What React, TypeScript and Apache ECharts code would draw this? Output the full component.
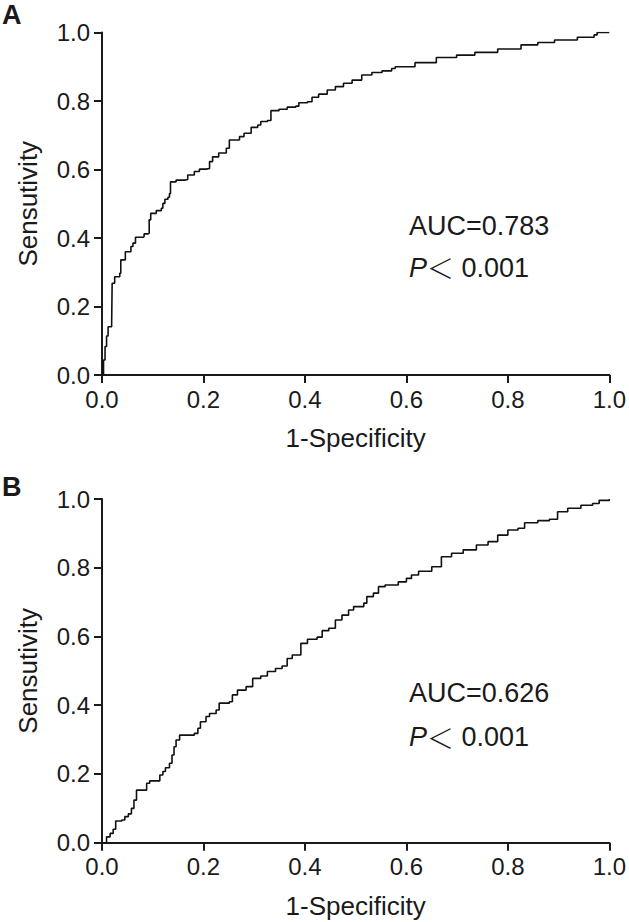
import React, { useEffect, useRef } from "react";
import * as echarts from "echarts";

// Panel A ROC curve (1-Specificity, Sensitivity)
const fprA = [0, 0.003, 0.006, 0.009, 0.012, 0.019, 0.02, 0.025, 0.035, 0.037, 0.046, 0.057, 0.061, 0.066, 0.081, 0.083, 0.091, 0.093, 0.096, 0.107, 0.117, 0.12, 0.124, 0.13, 0.133, 0.135, 0.146, 0.163, 0.169, 0.182, 0.192, 0.205, 0.212, 0.218, 0.23, 0.245, 0.251, 0.264, 0.271, 0.28, 0.294, 0.307, 0.313, 0.326, 0.333, 0.349, 0.365, 0.382, 0.388, 0.405, 0.414, 0.427, 0.444, 0.46, 0.476, 0.493, 0.512, 0.532, 0.552, 0.571, 0.578, 0.604, 0.617, 0.653, 0.659, 0.699, 0.735, 0.78, 0.826, 0.859, 0.892, 0.937, 0.97, 0.976, 1.0];
const tprA = [0, 0.044, 0.083, 0.114, 0.141, 0.146, 0.268, 0.287, 0.297, 0.336, 0.36, 0.375, 0.385, 0.402, 0.404, 0.412, 0.414, 0.453, 0.472, 0.48, 0.487, 0.501, 0.513, 0.519, 0.53, 0.564, 0.569, 0.571, 0.584, 0.594, 0.601, 0.603, 0.623, 0.637, 0.648, 0.662, 0.686, 0.686, 0.696, 0.706, 0.723, 0.73, 0.74, 0.743, 0.772, 0.776, 0.782, 0.785, 0.795, 0.798, 0.811, 0.82, 0.832, 0.842, 0.852, 0.861, 0.876, 0.883, 0.888, 0.895, 0.9, 0.9, 0.912, 0.912, 0.927, 0.934, 0.942, 0.952, 0.964, 0.971, 0.978, 0.986, 0.993, 1.0, 1.0];

// Panel B ROC curve
const fprB = [0, 0.009, 0.016, 0.022, 0.027, 0.039, 0.045, 0.052, 0.058, 0.063, 0.068, 0.081, 0.088, 0.094, 0.107, 0.114, 0.12, 0.125, 0.133, 0.138, 0.142, 0.146, 0.153, 0.169, 0.182, 0.189, 0.194, 0.205, 0.212, 0.225, 0.231, 0.251, 0.257, 0.267, 0.284, 0.297, 0.313, 0.326, 0.342, 0.355, 0.365, 0.375, 0.388, 0.392, 0.405, 0.424, 0.434, 0.447, 0.46, 0.473, 0.486, 0.496, 0.516, 0.522, 0.535, 0.545, 0.558, 0.575, 0.584, 0.6, 0.61, 0.624, 0.65, 0.669, 0.689, 0.712, 0.738, 0.761, 0.78, 0.8, 0.82, 0.833, 0.859, 0.882, 0.898, 0.918, 0.944, 0.967, 0.98, 1.0];
const tprB = [0, 0.017, 0.027, 0.039, 0.063, 0.066, 0.076, 0.084, 0.1, 0.124, 0.153, 0.153, 0.173, 0.18, 0.18, 0.197, 0.207, 0.218, 0.231, 0.255, 0.279, 0.299, 0.313, 0.313, 0.318, 0.333, 0.352, 0.367, 0.376, 0.386, 0.406, 0.41, 0.43, 0.444, 0.454, 0.478, 0.485, 0.498, 0.507, 0.514, 0.536, 0.546, 0.546, 0.58, 0.592, 0.598, 0.617, 0.624, 0.648, 0.662, 0.677, 0.687, 0.697, 0.716, 0.726, 0.745, 0.75, 0.75, 0.759, 0.769, 0.779, 0.79, 0.803, 0.832, 0.842, 0.852, 0.866, 0.876, 0.895, 0.91, 0.915, 0.931, 0.937, 0.941, 0.963, 0.973, 0.982, 0.987, 0.996, 1.0];

const panelLabels = ["A", "B"];
const aucTexts = ["AUC=0.783", "AUC=0.626"];
const pValues = ["0.001", "0.001"];

const FONT = "'Liberation Sans', Arial, Helvetica, sans-serif";
const INK = "#1a1a1a";

export default function App() {
  const ref = useRef<HTMLDivElement>(null);
  useEffect(() => {
    if (!ref.current) return;
    const chart = echarts.init(ref.current, null, { renderer: "svg" });
    const tops = [32.5, 499];
    const heights = [342.5, 343.7];
    const xAxisBase = (i: number) => ({
      type: "value",
      gridIndex: i,
      min: 0,
      max: 1,
      interval: 0.2,
      name: "1-Specificity",
      nameLocation: "middle",
      nameGap: 50,
      nameTextStyle: { fontSize: 26, color: INK, fontFamily: FONT },
      axisLine: { show: true, onZero: false, lineStyle: { color: INK, width: 2 } },
      axisTick: { show: true, length: 8, lineStyle: { color: INK, width: 2 } },
      axisLabel: { fontSize: 24, color: INK, fontFamily: FONT, margin: 12, formatter: (v: number) => v.toFixed(1) },
      splitLine: { show: false },
    });
    const yAxisBase = (i: number) => ({
      type: "value",
      gridIndex: i,
      min: 0,
      max: 1,
      interval: 0.2,
      name: "Sensutivity",
      nameLocation: "middle",
      nameGap: 61,
      nameTextStyle: { fontSize: 26, color: INK, fontFamily: FONT },
      axisLine: { show: true, onZero: false, lineStyle: { color: INK, width: 2 } },
      axisTick: { show: true, length: 8, lineStyle: { color: INK, width: 2 } },
      axisLabel: { fontSize: 24, color: INK, fontFamily: FONT, margin: 12, formatter: (v: number) => v.toFixed(1) },
      splitLine: { show: false },
    });
    const dataA = fprA.map((x, i) => [x, tprA[i]]);
    const dataB = fprB.map((x, i) => [x, tprB[i]]);
    const textEls: any[] = [];
    [0, 1].forEach((i) => {
      const labelY = i === 0 ? 15 : 487;
      const aucY = i === 0 ? 226 : 693;
      const pY = i === 0 ? 267.5 : 737;
      textEls.push({
        type: "text",
        x: 2,
        y: labelY,
        style: { text: panelLabels[i], font: `bold 27px ${FONT}`, fill: INK, verticalAlign: "middle", align: "left" },
      });
      textEls.push({
        type: "text",
        x: 409,
        y: aucY,
        style: { text: aucTexts[i], font: `27px ${FONT}`, fill: INK, verticalAlign: "middle", align: "left" },
      });
      textEls.push({
        type: "text",
        x: 409,
        y: pY,
        style: {
          text: `{i|P}{c|＜}{n| ${pValues[i]}}`,
          fill: INK,
          verticalAlign: "middle",
          align: "left",
          rich: {
            i: { fontStyle: "italic", fontSize: 27, fontFamily: FONT, fill: INK },
            c: { fontSize: 27, fontFamily: "'Noto Sans CJK SC', sans-serif", fontWeight: 300, fill: INK },
            n: { fontSize: 27, fontFamily: FONT, fill: INK },
          },
        },
      });
    });
    chart.setOption({
      animation: false,
      backgroundColor: "#ffffff",
      grid: [0, 1].map((i) => ({ left: 102, top: tops[i], width: 510, height: heights[i], containLabel: false })),
      xAxis: [xAxisBase(0), xAxisBase(1)],
      yAxis: [yAxisBase(0), yAxisBase(1)],
      series: [
        {
          type: "line",
          xAxisIndex: 0,
          yAxisIndex: 0,
          data: dataA,
          step: "end",
          showSymbol: false,
          silent: true,
          lineStyle: { color: "#111", width: 1.6 },
        },
        {
          type: "line",
          xAxisIndex: 1,
          yAxisIndex: 1,
          data: dataB,
          step: "end",
          showSymbol: false,
          silent: true,
          lineStyle: { color: "#111", width: 1.6 },
        },
      ],
      graphic: textEls,
    });
    return () => chart.dispose();
  }, []);
  return (
    <div
      ref={ref}
      style={{ position: "absolute", left: 0, top: 0, width: 629, height: 922, background: "#fff" }}
    />
  );
}
